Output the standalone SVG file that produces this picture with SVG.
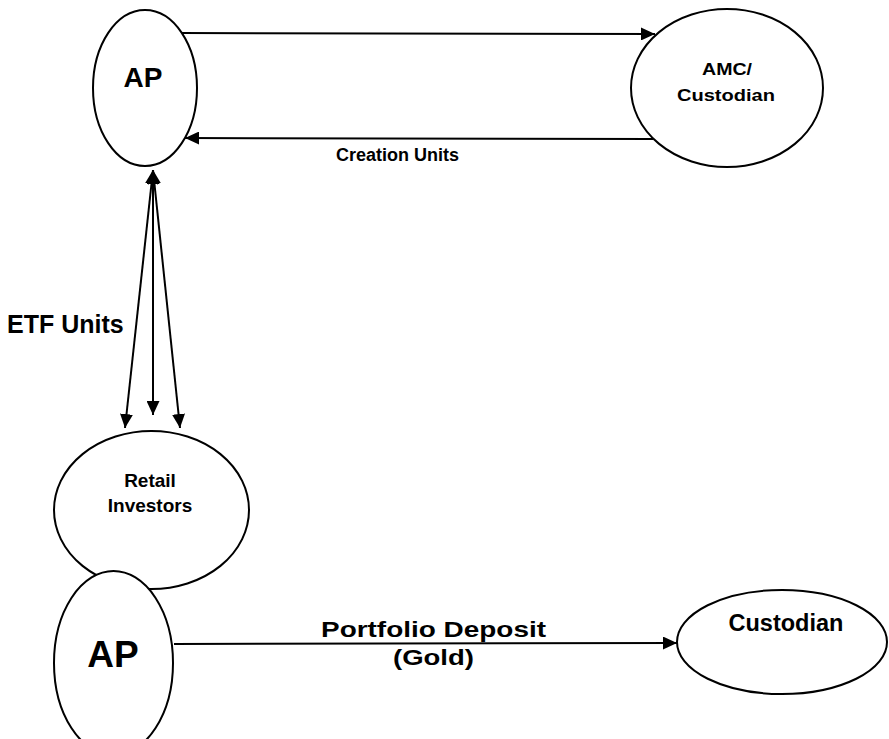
<svg xmlns="http://www.w3.org/2000/svg" width="889" height="739" viewBox="0 0 889 739">
<style>
.n{fill:#fff;stroke:#000;stroke-width:2}
.t{font-family:"Liberation Sans",Arial,sans-serif;font-weight:bold;fill:#000}
.c{stroke:#000;stroke-width:2;fill:none}
</style>
<defs>
<marker id="ah" markerUnits="userSpaceOnUse" markerWidth="14" markerHeight="13" refX="14" refY="6.5" orient="auto-start-reverse">
<path d="M0,0 L14,6.5 L0,13 z" fill="#000"/>
</marker>
</defs>
<rect width="889" height="739" fill="#fff"/>
<g id="connectors">
<line class="c" x1="182" y1="33" x2="655" y2="34" marker-end="url(#ah)"/>
<line class="c" x1="653" y1="139" x2="185" y2="138" marker-end="url(#ah)"/>
<line class="c" x1="153" y1="170" x2="125" y2="428" marker-start="url(#ah)" marker-end="url(#ah)"/>
<line class="c" x1="153" y1="170" x2="153" y2="415" marker-start="url(#ah)" marker-end="url(#ah)"/>
<line class="c" x1="153" y1="170" x2="180" y2="428" marker-start="url(#ah)" marker-end="url(#ah)"/>
<line class="c" x1="174" y1="644" x2="677" y2="643" marker-end="url(#ah)"/>
</g>
<g id="labels">
<text class="t" x="336" y="161" font-size="18">Creation Units</text>
<text class="t" x="7" y="333" font-size="25">ETF Units</text>
<text class="t" x="321" y="637" font-size="21.5" textLength="225" lengthAdjust="spacingAndGlyphs">Portfolio Deposit</text>
<text class="t" x="393" y="665" font-size="21.5" textLength="81" lengthAdjust="spacingAndGlyphs">(Gold)</text>
</g>
<g id="ap-top">
<ellipse class="n" cx="145" cy="88" rx="52" ry="78"/>
<text class="t" x="143" y="87" font-size="28" text-anchor="middle">AP</text>
</g>
<g id="amc-custodian">
<ellipse class="n" cx="727" cy="88" rx="96" ry="79"/>
<text class="t" x="702" y="75" font-size="17" textLength="50" lengthAdjust="spacingAndGlyphs">AMC/</text>
<text class="t" x="677" y="101" font-size="17" textLength="98" lengthAdjust="spacingAndGlyphs">Custodian</text>
</g>
<g id="retail-investors">
<ellipse class="n" cx="151.5" cy="510" rx="97.5" ry="79"/>
<text class="t" x="150" y="487" font-size="19" text-anchor="middle">Retail</text>
<text class="t" x="150" y="512" font-size="19" text-anchor="middle">Investors</text>
</g>
<g id="ap-bottom">
<ellipse class="n" cx="113.5" cy="663" rx="59.5" ry="92"/>
<text class="t" x="113" y="667" font-size="37" text-anchor="middle">AP</text>
</g>
<g id="custodian">
<ellipse class="n" cx="782" cy="642" rx="105" ry="52"/>
<text class="t" x="786" y="631" font-size="23.5" text-anchor="middle">Custodian</text>
</g>
</svg>
